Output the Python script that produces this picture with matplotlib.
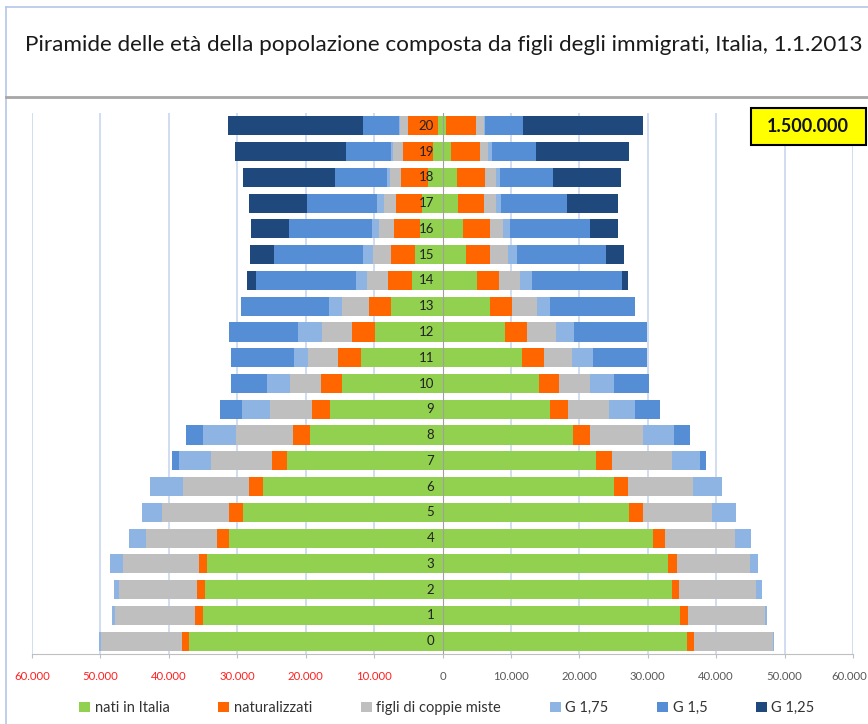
import matplotlib
matplotlib.use("Agg")
import matplotlib.pyplot as plt
import numpy as np
from matplotlib.patches import Rectangle
from matplotlib.lines import Line2D

ages = list(range(21))

# lato sinistro
left_nati = [37030, 34990, 34740, 34350, 31240, 29100, 26180, 22680, 19370, 16450, 14740,
             11970, 9930, 7490, 4530, 4040, 3310, 2970, 2090, 1360, 700]
left_naturalizzati = [1020, 1170, 1120, 1270, 1660, 2040, 2090, 2190, 2480, 2670, 3070,
                      3260, 3260, 3260, 3400, 3550, 3790, 3790, 4040, 4430, 4360]
left_miste = [11880, 11770, 11390, 11140, 10460, 9880, 9730, 9000, 8370, 6140, 4480,
              4430, 4470, 3990, 3070, 2530, 2190, 1800, 1560, 1410, 1170]
left_g175 = [340, 390, 830, 1800, 2530, 2970, 4730, 4620, 4720, 4080, 3400,
             2040, 3410, 1850, 1700, 1460, 980, 980, 490, 390, 200]
left_g15 = [0, 0, 0, 0, 0, 0, 0, 1070, 2480, 3170, 5260,
            9250, 10120, 12800, 14600, 13040, 12160, 10310, 7540, 6470, 5150]
left_g125 = [0, 0, 0, 0, 0, 0, 0, 0, 0, 0, 0,
             0, 0, 0, 1220, 3510, 5600, 8420, 13480, 16300, 19710]

# lato destro
right_nati = [35780, 34710, 33500, 32910, 30820, 27320, 25130, 22460, 19010, 15650, 14050,
              11620, 9140, 6950, 5010, 3450, 3060, 2330, 2140, 1170, 580]
right_naturalizzati = [970, 1120, 1110, 1310, 1650, 2040, 2000, 2280, 2480, 2680, 2970,
                       3210, 3210, 3160, 3300, 3550, 3840, 3800, 4130, 4280, 4330]
right_miste = [11570, 11280, 11190, 10700, 10310, 9970, 9530, 8760, 7870, 6030, 4570,
               4130, 4280, 3750, 2970, 2530, 1950, 1650, 1510, 1160, 1120]
right_g175 = [200, 340, 870, 1260, 2240, 3500, 4230, 4130, 4480, 3790, 3500,
              2970, 2620, 1890, 1800, 1360, 970, 820, 580, 680, 200]
right_g15 = [0, 0, 0, 0, 0, 0, 0, 820, 2330, 3640, 5050,
             7970, 10650, 12350, 13220, 12980, 11670, 9630, 7780, 6320, 5530]
right_g125 = [0, 0, 0, 0, 0, 0, 0, 0, 0, 0, 0,
              0, 0, 0, 830, 2670, 4130, 7390, 10010, 13710, 17510]

labels = ["nati in Italia", "naturalizzati", "figli di coppie miste", "G 1,75", "G 1,5", "G 1,25"]
colors = ["#92D050", "#FF6600", "#BFBFBF", "#8DB4E2", "#558ED5", "#1F497D"]
x_ticks = [-60000, -50000, -40000, -30000, -20000, -10000, 0,
           10000, 20000, 30000, 40000, 50000, 60000]

plt.rcParams["font.family"] = ["Lato", "DejaVu Sans"]

fig = plt.figure(figsize=(8.68, 7.24), dpi=100)
ax = fig.add_axes([32 / 868, 1 - 654 / 724, (853 - 32) / 868, (654 - 113) / 724])

left_series = [left_nati, left_naturalizzati, left_miste, left_g175, left_g15, left_g125]
right_series = [right_nati, right_naturalizzati, right_miste, right_g175, right_g15, right_g125]

y = np.array(ages)
h = 0.74
cum = np.zeros(len(ages))
for vals, col in zip(left_series, colors):
    v = np.array(vals, dtype=float)
    ax.barh(y, -v, left=-cum, height=h, color=col, zorder=3, linewidth=0)
    cum += v
cum = np.zeros(len(ages))
for vals, col, lab in zip(right_series, colors, labels):
    v = np.array(vals, dtype=float)
    ax.barh(y, v, left=cum, height=h, color=col, zorder=3, linewidth=0, label=lab)
    cum += v

for a in ages:
    ax.annotate(str(a), xy=(0, a), xytext=(-6, 0), textcoords="offset points",
                ha="right", va="center", fontsize=9.5, color="#222222", zorder=5)

ax.set_xlim(-60000, 60000)
ax.set_ylim(-0.5, 20.5)
ax.set_xticks(x_ticks)
tick_text = [f"{abs(t):,}".replace(",", ".") for t in x_ticks]
# l'ultima etichetta a destra la scrivo a parte, un poco spostata per non uscire dal bordo
ax.set_xticklabels(tick_text[:-1] + [""], fontsize=8.2)
for t, lbl in zip(x_ticks, ax.get_xticklabels()):
    lbl.set_color("#FF2020" if t < 0 else "#595959")
ax.annotate(tick_text[-1], xy=(x_ticks[-1], 0), xycoords=ax.get_xaxis_transform(),
            xytext=(-3, -12), textcoords="offset points", ha="center", va="top",
            fontsize=8.2, color="#595959", annotation_clip=False)
ax.set_yticks([])
ax.tick_params(axis="x", length=3, color="#BFBFBF", pad=9)

for t in x_ticks:
    if t != 0:
        ax.axvline(t, color="#C9D7EF", linewidth=1.2, zorder=1)
ax.axvline(0, color="#A0A0A0", linewidth=0.8, zorder=4)

for side in ["top", "right", "left"]:
    ax.spines[side].set_visible(False)
ax.spines["bottom"].set_color("#BFBFBF")

# riquadro con il totale
fig.add_artist(Rectangle((751 / 868, 1 - 145 / 724), 115 / 868, 37 / 724,
                         transform=fig.transFigure, facecolor="#FFFF00",
                         edgecolor="black", linewidth=1.5, zorder=10))
fig.text(808 / 868, 1 - 127 / 724, "1.500.000", ha="center", va="center",
         fontsize=13, fontweight="bold", color="#111111", zorder=11)

fig.text(25 / 868, 1 - 45 / 724,
         "Piramide delle età della popolazione composta da figli degli immigrati, Italia, 1.1.2013",
         ha="left", va="center", fontsize=16.2, color="#1a1a1a")

# cornici
fig.add_artist(Line2D([6 / 868, 6 / 868], [0, 1 - 7 / 724], transform=fig.transFigure,
                      color="#B4C7E7", linewidth=1.2))
fig.add_artist(Line2D([6 / 868, 1], [1 - 7 / 724, 1 - 7 / 724], transform=fig.transFigure,
                      color="#B4C7E7", linewidth=1.2))
fig.add_artist(Line2D([6 / 868, 1], [1 - 97 / 724, 1 - 97 / 724], transform=fig.transFigure,
                      color="#A6A6A6", linewidth=2))

leg = fig.legend(loc="center", bbox_to_anchor=(447 / 868, 1 - 708 / 724), ncol=6,
                 frameon=False, fontsize=10.5, handlelength=0.75, handleheight=0.75,
                 handletextpad=0.3, columnspacing=3.35)
for txt in leg.get_texts():
    txt.set_color("#333333")

fig.savefig("out.png", dpi=100)
